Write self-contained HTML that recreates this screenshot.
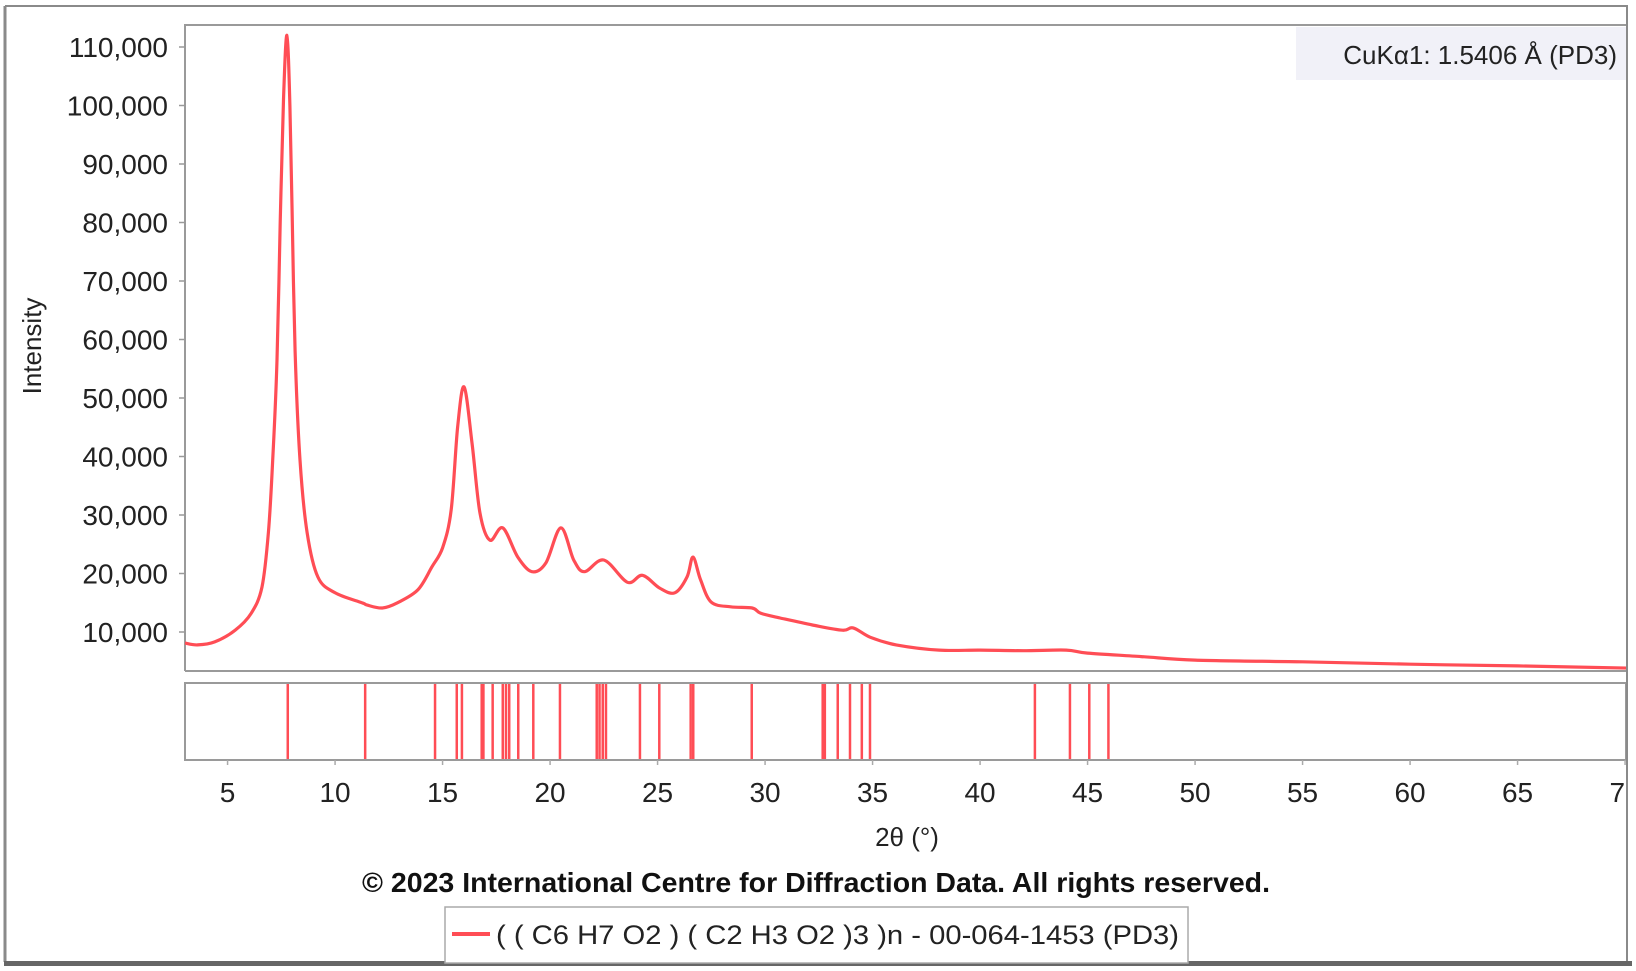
<!DOCTYPE html>
<html><head><meta charset="utf-8"><style>
html,body{margin:0;padding:0;background:#fff;}
svg{display:block;font-family:"Liberation Sans",Arial,sans-serif;}
</style></head><body>
<svg id="chart" width="1636" height="971" viewBox="0 0 1636 971" xmlns="http://www.w3.org/2000/svg">
  <defs><clipPath id="clipR"><rect x="0" y="0" width="1627" height="971"/></clipPath></defs>
  <rect x="0" y="0" width="1636" height="971" fill="#fff"/>
  <rect x="1296" y="27" width="330" height="53" fill="#f1f1f8"/>
  <text x="1617" y="64" text-anchor="end" font-size="26" fill="#222">CuKα1: 1.5406 Å (PD3)</text>
  <g clip-path="url(#clipR)">
    <g id="upper"></g>
    <g id="lower"></g>
  </g>
  <g>
    <line x1="5" y1="6" x2="1628" y2="6" stroke="#8a8a8a" stroke-width="2"/>
    <line x1="5" y1="6" x2="5" y2="962" stroke="#8a8a8a" stroke-width="3"/>
    <line x1="1627" y1="6" x2="1627" y2="962" stroke="#8a8a8a" stroke-width="2"/>
    <rect x="4" y="961" width="1628" height="5" fill="#666"/>
  </g>
  <text transform="translate(41,346) rotate(-90)" text-anchor="middle" font-size="26" fill="#222">Intensity</text>
  <text x="907" y="846" text-anchor="middle" font-size="26" fill="#222">2θ (°)</text>
  <text x="362" y="892" font-size="28" font-weight="bold" fill="#111" textLength="908" lengthAdjust="spacingAndGlyphs">© 2023 International Centre for Diffraction Data. All rights reserved.</text>
  <g>
    <rect x="445" y="907" width="743" height="56" fill="#fff" stroke="#aaa" stroke-width="1.5"/>
    <line x1="452" y1="934" x2="490" y2="934" stroke="#ff4d55" stroke-width="4"/>
    <text x="496" y="944" font-size="27" fill="#222" textLength="683" lengthAdjust="spacingAndGlyphs">( ( C6 H7 O2 ) ( C2 H3 O2 )3 )n - 00-064-1453 (PD3)</text>
  </g>
</svg>
<script>
const twoTheta = [3.02,3.6,4.4,5.35,6.1,6.6,6.9,7.1,7.3,7.45,7.6,7.76,7.9,8.0,8.14,8.37,8.7,9.2,10.0,11.25,11.5,12.2,12.9,13.85,14.5,15.0,15.4,15.7,16.0,16.37,16.74,17.2,17.8,18.5,19.16,19.8,20.5,21.1,21.6,22.5,23.6,24.3,25.1,25.8,26.37,26.65,27.0,27.5,28.4,29.4,29.8,30.7,32.2,33.6,34.1,34.9,36.1,38.1,40.0,42.0,44.0,45.0,47.5,50.0,55.0,60.0,65.0,70.67];
const intensity = [8100,7800,8300,10300,13200,17700,27000,39400,56500,80000,101000,112000,100000,82000,58000,39400,27000,19400,16700,15000,14600,14100,15000,17200,21100,24400,30900,45000,51900,42300,30300,25700,27800,22800,20300,21800,27800,22300,20300,22300,18500,19700,17500,16700,19400,22800,18900,15100,14300,14100,13200,12400,11200,10300,10700,9100,7800,6900,6900,6800,6900,6400,5800,5200,4900,4500,4200,3800];
const stickPositions = [7.8,11.4,14.65,15.66,15.9,16.82,16.9,17.33,17.8,17.95,18.1,18.52,19.22,20.46,22.17,22.3,22.45,22.6,24.18,25.08,26.54,26.66,29.38,32.68,32.78,33.38,33.95,34.5,34.88,42.55,44.18,45.08,45.97];
const xTicks = [5,10,15,20,25,30,35,40,45,50,55,60,65,70];
const yTicks = [10000,20000,30000,40000,50000,60000,70000,80000,90000,100000,110000];

const NS = "http://www.w3.org/2000/svg";
const X0 = 185, X1 = 1626, XMIN = 3.02;
const xs = d => X0 + (d - XMIN) * 21.5;
const ys = v => 632 - (v - 10000) * 0.00585;
function mk(tag, attrs, parent) {
  const e = document.createElementNS(NS, tag);
  for (const k in attrs) e.setAttribute(k, attrs[k]);
  parent.appendChild(e);
  return e;
}
const up = document.getElementById('upper');
const lo = document.getElementById('lower');
let fr = mk('path', {d:`M${X0},671 L${X0},25 L${X1},25 M${X0},671 L${X1},671`, fill:'none', stroke:'#9a9a9a', 'stroke-width':2}, up);


yTicks.forEach(v => {
  const t = mk('line', {x1:X0-6, x2:X0, y1:ys(v), y2:ys(v), stroke:'#999', 'stroke-width':1.5}, up);
  
  
  const l = mk('text', {x:X0-17, y:ys(v)+10, 'text-anchor':'end', 'font-size':28, fill:'#222'}, up);
  l.textContent = v.toLocaleString('en-US');
  
  
});
// smooth curve (Catmull-Rom through data points)
const P = twoTheta.map((d,i) => [xs(d), ys(intensity[i])]);
let d = `M${P[0][0].toFixed(1)},${P[0][1].toFixed(1)}`;
for (let i = 0; i < P.length - 1; i++) {
  const p0 = P[Math.max(i-1,0)], p1 = P[i], p2 = P[i+1], p3 = P[Math.min(i+2,P.length-1)];
  const c1x = p1[0] + (p2[0]-p0[0])/6, c1y = p1[1] + (p2[1]-p0[1])/6;
  const c2x = p2[0] - (p3[0]-p1[0])/6, c2y = p2[1] - (p3[1]-p1[1])/6;
  d += ` C${c1x.toFixed(1)},${c1y.toFixed(1)} ${c2x.toFixed(1)},${c2y.toFixed(1)} ${p2[0].toFixed(1)},${p2[1].toFixed(1)}`;
}
const ln = mk('path', {d:d, fill:'none', stroke:'#ff4d55', 'stroke-width':3.2, 'stroke-linejoin':'round'}, up);


const lb = mk('rect', {x:X0, y:683, width:X1-X0, height:77, fill:'#fff', stroke:'#9a9a9a', 'stroke-width':2}, lo);


stickPositions.forEach(p => {
  const s = mk('line', {x1:xs(p), x2:xs(p), y1:684, y2:759, stroke:'#ff4d55', 'stroke-width':2.5}, lo);
  
  
});
xTicks.forEach(p => {
  const t = mk('line', {x1:xs(p), x2:xs(p), y1:760, y2:765, stroke:'#aaa', 'stroke-width':1.5}, lo);
  
  
  const l = mk('text', {x:xs(p), y:802, 'text-anchor':'middle', 'font-size':28, fill:'#222'}, lo);
  l.textContent = p;
  
  
});
</script>
</body></html>
